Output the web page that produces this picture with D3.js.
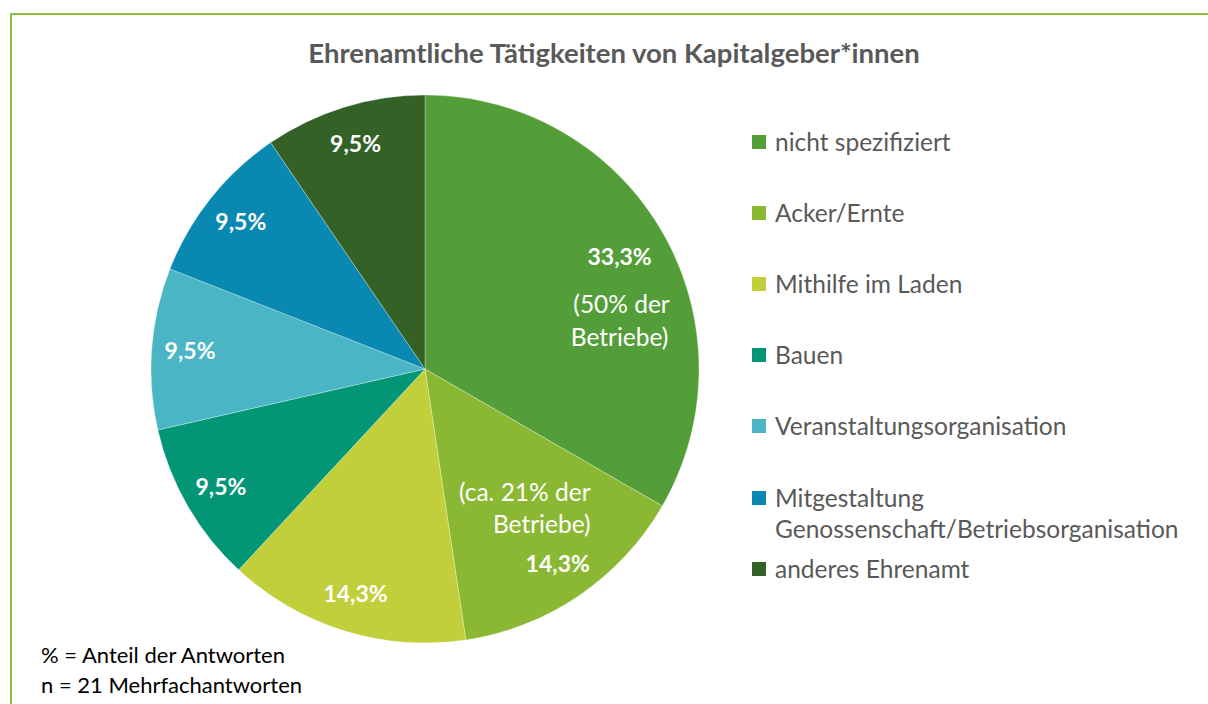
<!DOCTYPE html>
<html>
<head>
<meta charset="utf-8">
<script src="https://cdn.jsdelivr.net/npm/d3@7"></script>
<style>
  body { margin: 0; background: #fff; }
  svg { display: block; font-family: Lato, "Open Sans", sans-serif; }
</style>
</head>
<body>
<svg width="1208" height="704"></svg>
<script>
var categories = ["nicht spezifiziert", "Acker/Ernte", "Mithilfe im Laden", "Bauen",
    "Veranstaltungsorganisation", "Mitgestaltung Genossenschaft/Betriebsorganisation", "anderes Ehrenamt"];
var counts = [7, 3, 3, 2, 2, 2, 2];
var pctLabels = ["33,3%", "14,3%", "14,3%", "9,5%", "9,5%", "9,5%", "9,5%"];
var colors = ["#549e39", "#8ab833", "#c0cf3a", "#029676", "#4ab5c4", "#0989b1", "#336126"];
var notes = ["% = Anteil der Antworten", "n = 21 Mehrfachantworten"];

function main() {
    var svg = d3.select("svg");
    var cx = 425, cy = 369, r = 274;

    // frame
    svg.append("path")
        .attr("d", "M11,710 V14 H1215")
        .attr("fill", "none")
        .attr("stroke", "#8cbd3f")
        .attr("stroke-width", 2);

    svg.append("text")
        .attr("x", 614)
        .attr("y", 63)
        .attr("text-anchor", "middle")
        .attr("font-size", "27.5px")
        .attr("font-weight", "bold")
        .attr("fill", "#595959")
        .text("Ehrenamtliche Tätigkeiten von Kapitalgeber*innen");

    var pie = d3.pie().sort(null).value(function(d) { return d; });
    var arcs = pie(counts);
    var arc = d3.arc().innerRadius(0).outerRadius(r);
    // label radius: the big slice sits a little further in
    function labelPos(d, i) {
        var lr = r * (i === 0 ? 0.82 : 0.86);
        return d3.arc().innerRadius(lr).outerRadius(lr).centroid(d);
    }

    var g = svg.append("g").attr("transform", "translate(" + cx + "," + cy + ")");

    g.selectAll("path")
        .data(arcs)
        .enter().append("path")
        .attr("d", arc)
        .attr("fill", function(d, i) { return colors[i]; })
        .attr("stroke", "#ffffff")
        .attr("stroke-opacity", 0.5)
        .attr("stroke-width", 0.6);

    g.selectAll("text.pct")
        .data(arcs)
        .enter().append("text")
        .attr("class", "pct")
        .attr("transform", function(d, i) { return "translate(" + labelPos(d, i) + ")"; })
        .attr("dy", "0.35em")
        .attr("text-anchor", "middle")
        .attr("font-size", "23px")
        .attr("font-weight", "bold")
        .attr("fill", "#fff")
        .text(function(d, i) { return pctLabels[i]; });

    // extra notes inside the first two slices
    var c0 = labelPos(arcs[0], 0);
    var c1 = labelPos(arcs[1], 1);
    var extra = [
        { x: c0[0] + 2, y: c0[1] + 48, t: "(50% der" },
        { x: c0[0] + 0, y: c0[1] + 81, t: "Betriebe)" },
        { x: c1[0] - 33, y: c1[1] - 71, t: "(ca. 21% der" },
        { x: c1[0] - 16, y: c1[1] - 39, t: "Betriebe)" }
    ];
    g.selectAll("text.extra")
        .data(extra)
        .enter().append("text")
        .attr("x", function(d) { return d.x; })
        .attr("y", function(d) { return d.y; })
        .attr("dy", "0.35em")
        .attr("text-anchor", "middle")
        .attr("font-size", "24.5px")
        .attr("fill", "#fff")
        .text(function(d) { return d.t; });

    // legend
    var legYs = [142, 213, 284, 355, 426, 498, 569];
    var leg = svg.append("g").selectAll("g")
        .data(categories)
        .enter().append("g")
        .attr("transform", function(d, i) { return "translate(752," + legYs[i] + ")"; });
    leg.append("rect")
        .attr("x", 0).attr("y", -7)
        .attr("width", 14).attr("height", 14)
        .attr("fill", function(d, i) { return colors[i]; });
    leg.append("text")
        .attr("x", 23)
        .attr("font-size", "24.5px")
        .attr("fill", "#595959")
        .each(function(d) {
            var el = d3.select(this);
            var parts = d === categories[5] ? ["Mitgestaltung", "Genossenschaft/Betriebsorganisation"] : [d];
            parts.forEach(function(p, k) {
                el.append("tspan").attr("x", 23).attr("dy", k === 0 ? "0.35em" : "31px").text(p);
            });
        });

    svg.append("g").selectAll("text")
        .data(notes)
        .enter().append("text")
        .attr("x", 41)
        .attr("y", function(d, i) { return 663 + i * 30; })
        .attr("font-size", "22px")
        .attr("fill", "#000")
        .text(function(d) { return d; });
}
main();
</script>
</body>
</html>
